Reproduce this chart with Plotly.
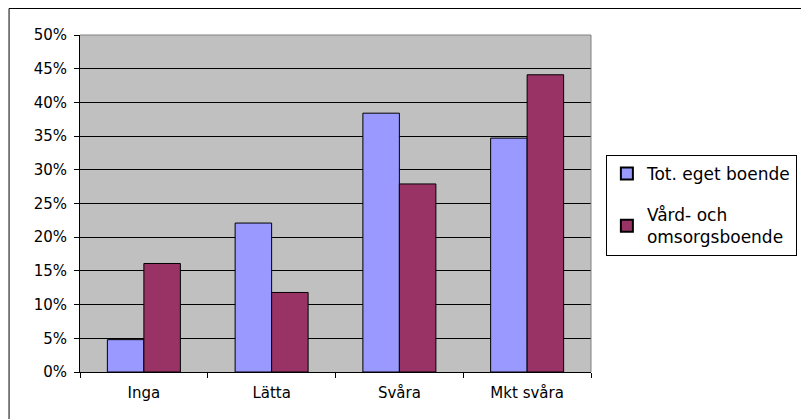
import plotly.graph_objects as go

categories = ["Inga", "Lätta", "Svåra", "Mkt svåra"]
tot_eget_boende = [4.8, 22.1, 38.4, 34.7]
vard_omsorgsboende = [16.1, 11.8, 27.9, 44.1]
series_names = ["Tot. eget boende", "Vård- och<br>omsorgsboende"]
y_ticks = [0, 5, 10, 15, 20, 25, 30, 35, 40, 45, 50]
y_tick_labels = ["0%", "5%", "10%", "15%", "20%", "25%", "30%", "35%", "40%", "45%", "50%"]

FONT = "DejaVu Sans"

fig = go.Figure()
fig.add_trace(go.Bar(
    x=categories, y=tot_eget_boende, name=series_names[0],
    marker=dict(color="#9999FF", line=dict(color="black", width=1)),
    legendgroup="a",
))
fig.add_trace(go.Bar(
    x=categories, y=vard_omsorgsboende, name=series_names[1],
    marker=dict(color="#993366", line=dict(color="black", width=1)),
    legendgroup="b",
))

# page has an 8px body margin; figure coordinates are offset accordingly
OFF = 8
W, H = 809 - OFF, 419 - OFF
L, T = 80 - OFF, 35 - OFF
pw, ph = 515, 337
R = W - L - pw
B = H - T - ph


def px(xpage):
    return (xpage - OFF - L) / pw


def py(ypage):
    return (H - B - (ypage - OFF)) / ph


fig.update_layout(
    width=W, height=H,
    margin=dict(l=L, r=R, t=T, b=B, pad=0),
    paper_bgcolor="white",
    plot_bgcolor="#C0C0C0",
    barmode="group",
    bargap=1.5 / 3.5,
    bargroupgap=0,
    font=dict(family=FONT, size=15, color="black"),
    legend=dict(
        x=px(610), y=py(155), xanchor="left", yanchor="top",
        bgcolor="white", bordercolor="black", borderwidth=1,
        font=dict(family=FONT, size=17, color="black"),
        tracegroupgap=16,
        itemsizing="constant",
    ),
    showlegend=True,
    xaxis=dict(
        type="category",
        showline=True, linecolor="black", linewidth=1,
        ticks="outside", ticklen=5, tickcolor="black",
        tickson="boundaries",
        showgrid=False,
        tickfont=dict(family=FONT, size=15, color="black"),
        ticklabelstandoff=7,
    ),
    yaxis=dict(
        range=[0, 50],
        tickmode="array",
        tickvals=y_ticks,
        ticktext=y_tick_labels,
        showline=True, linecolor="black", linewidth=1,
        ticks="outside", ticklen=5, tickcolor="black",
        showgrid=True, gridcolor="black", gridwidth=1,
        zeroline=False,
        tickfont=dict(family=FONT, size=15, color="black"),
        ticklabelstandoff=4,
    ),
    shapes=[
        dict(type="line", xref="paper", yref="paper", x0=0, x1=1, y0=1, y1=1,
             line=dict(color="#808080", width=1)),
        dict(type="line", xref="paper", yref="paper", x0=1, x1=1, y0=0, y1=1,
             line=dict(color="#808080", width=1)),
        dict(type="line", xref="paper", yref="paper",
             x0=px(OFF + 0.5), x1=px(OFF + 0.5), y0=py(OFF + 0.5), y1=py(419),
             line=dict(color="black", width=1)),
        dict(type="line", xref="paper", yref="paper",
             x0=px(OFF + 0.5), x1=px(809), y0=py(OFF + 0.5), y1=py(OFF + 0.5),
             line=dict(color="black", width=1)),
    ],
)

fig.write_html("out.html")
